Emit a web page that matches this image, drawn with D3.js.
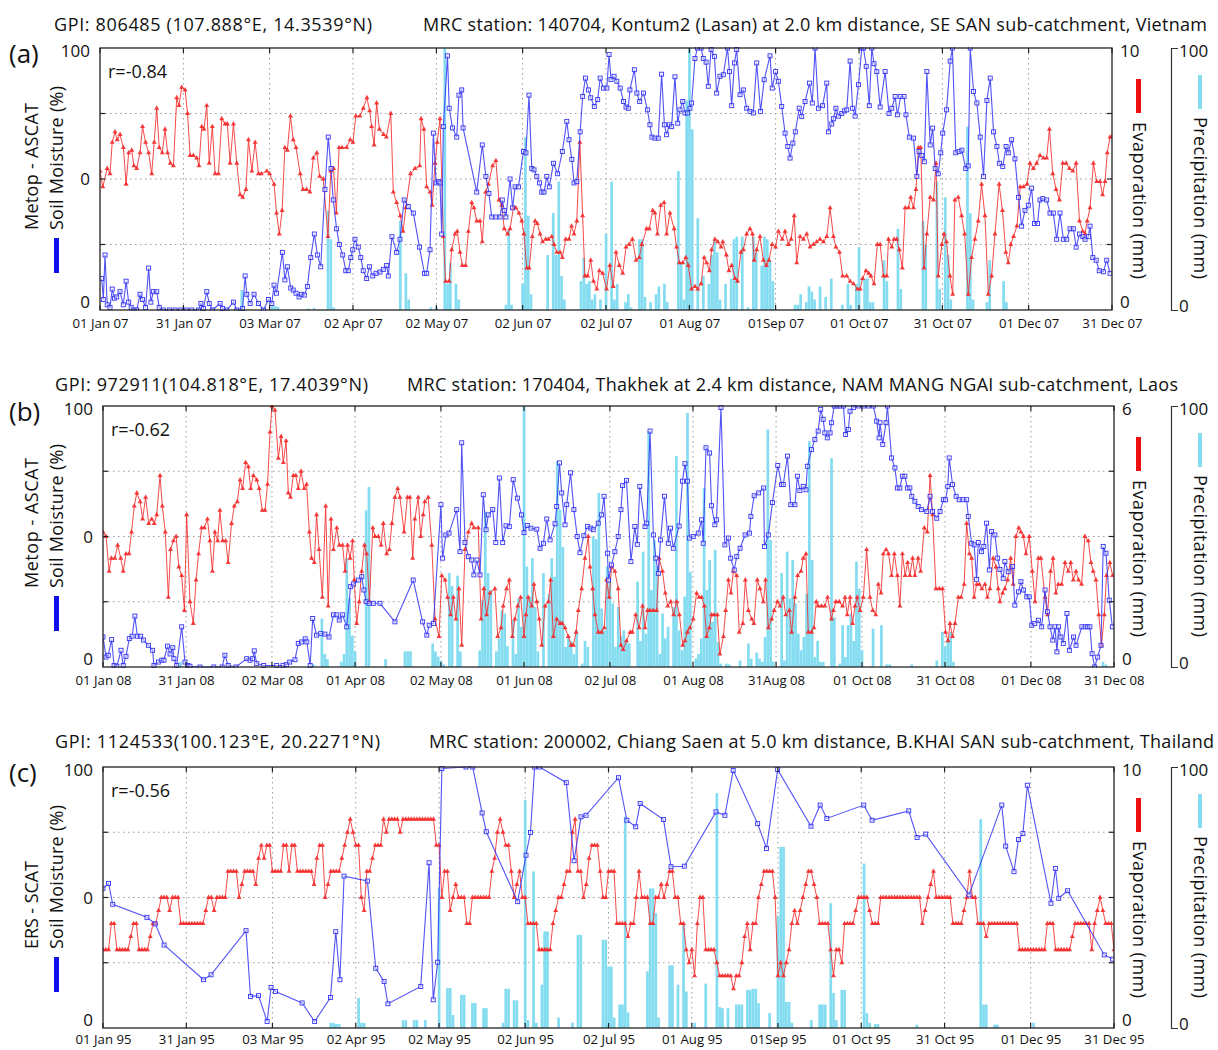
<!DOCTYPE html>
<html>
<head>
<meta charset="utf-8">
<script src="https://cdn.jsdelivr.net/npm/d3@7"></script>
<style>
  body { margin: 0; background: #fff; }
  svg text { font-family: "Open Sans", "Noto Sans", sans-serif; fill: #111; }
</style>
</head>
<body>
<svg id="chart" width="1218" height="1050"></svg>
<script>
// ---- tick dates and labels ----
const tickDatesA = ["2007-01-01","2007-01-31","2007-03-03","2007-04-02","2007-05-02","2007-06-02","2007-07-02","2007-08-01","2007-09-01","2007-10-01","2007-10-31","2007-12-01","2007-12-31"];
const tickLabelsA = ["01 Jan 07","31 Jan 07","03 Mar 07","02 Apr 07","02 May 07","02 Jun 07","02 Jul 07","01 Aug 07","01Sep 07","01 Oct 07","31 Oct 07","01 Dec 07","31 Dec 07"];
const tickDatesB = ["2008-01-01","2008-01-31","2008-03-02","2008-04-01","2008-05-02","2008-06-01","2008-07-02","2008-08-01","2008-08-31","2008-10-01","2008-10-31","2008-12-01","2008-12-31"];
const tickLabelsB = ["01 Jan 08","31 Jan 08","02 Mar 08","01 Apr 08","02 May 08","01 Jun 08","02 Jul 08","01 Aug 08","31Aug 08","01 Oct 08","31 Oct 08","01 Dec 08","31 Dec 08"];
const tickDatesC = ["1995-01-01","1995-01-31","1995-03-03","1995-04-02","1995-05-02","1995-06-02","1995-07-02","1995-08-01","1995-09-01","1995-10-01","1995-10-31","1995-12-01","1995-12-31"];
const tickLabelsC = ["01 Jan 95","31 Jan 95","03 Mar 95","02 Apr 95","02 May 95","02 Jun 95","02 Jul 95","01 Aug 95","01Sep 95","01 Oct 95","31 Oct 95","01 Dec 95","31 Dec 95"];
const smTicks = [0, 50, 100];
const smTickLabels = ["0", "0", "100"];
const prTickLabels = ["0", "100"];

// ---- panel (a): [day of year, value] ----
const evapA = [[0,5.3],[1,4.7],[2.6,5.4],[3.6,5.2],[4.4,6.4],[5.4,6.8],[6.2,6.5],[7.2,6.7],[8.4,6.2],[9.4,4.8],[10.3,6.0],[11.4,6.1],[12.2,5.5],[13.2,5.4],[14.4,6.0],[15.3,7.0],[16.4,6.4],[17.5,6.0],[18.6,5.2],[19.5,6.4],[20.4,7.7],[21.3,6.2],[22.4,6.0],[23.4,6.9],[24.3,6.0],[25.3,5.6],[26.4,5.5],[27.6,8.1],[28.4,7.8],[29.4,8.5],[30.6,8.4],[31.5,7.5],[32.4,5.9],[33.6,5.9],[34.8,5.8],[35.6,5.5],[36.6,7.0],[37.4,6.9],[38.4,7.8],[39.3,5.6],[40.4,7.0],[41.4,5.2],[42.6,5.2],[43.8,7.3],[45,7.1],[45.8,7.1],[46.8,5.6],[48,7.1],[49.2,5.6],[50.4,4.4],[51.3,4.3],[52.5,4.6],[53.4,6.5],[54.6,5.3],[55.8,6.4],[57,5.2],[58,5.2],[60,5.3],[61,5.2],[62.6,4.8],[63.5,3.7],[64.5,2.9],[65.5,3.8],[66.5,6.2],[67.4,6.1],[68.5,7.4],[69.5,6.5],[70.5,6.2],[72,5.2],[73,4.6],[74.3,4.6],[75.5,4.5],[76.7,5.8],[78,6.0],[79,5.1],[80.3,5.0],[82,2.8],[83,5.3],[84,5.4],[85,3.7],[86,6.2],[87,6.2],[88.7,6.2],[90,6.5],[91,6.4],[92,7.4],[93.5,7.4],[94.7,7.7],[96,8.1],[97,7.6],[97.7,7.0],[98.6,6.3],[99.5,7.9],[100.5,6.9],[102,6.7],[103,6.6],[104.6,7.5],[105.5,4.5],[106.7,4.1],[108,3.6],[109,3.0],[110,3.9],[111.7,5.2],[113.3,5.4],[115,5.5],
[115.5,7.3],[116.5,6.9],[117.5,4.7],[118.7,4.5],[119.5,4.0],[120.5,5.6],[121.3,6.4],[122.3,7.3],[123.5,2.8],[124.3,1.1],[125.6,1.1],[126.5,2.3],[127.7,2.9],[128.5,3.0],[129.5,2.2],[130.3,1.7],[131.5,1.7],[132.5,3.0],[133.7,4.1],[134.5,3.9],[135.5,3.4],[136.7,3.4],[137.5,2.6],[138.7,4.5],[139.7,4.8],[141.2,5.5],[142.4,5.7],[143.5,4.2],[144.5,4.0],[145.4,3.1],[146.6,2.9],[147.5,3.1],[148.7,3.9],[149.6,3.9],[150.7,3.7],[151.7,3.4],[152.5,2.9],[153.5,1.6],[154.4,1.6],[155.5,2.8],[156.5,3.4],[157.3,3.3],[158.3,2.9],[159.2,2.6],[160.3,2.7],[161.3,2.7],[162.5,2.8],[163.3,2.5],[164.3,2.2],[165.5,2.2],[166.3,2.0],[167.5,2.7],[168.7,2.7],[169.6,3.2],[170.5,2.9],[171.5,3.4],[172.6,6.4],[173.6,3.6],[174.4,1.3],[175.4,1.3],[176.5,1.9],[177.5,1.1],[178.7,0.8],[179.6,1.5],[180.8,1.4],[182.2,0.8],[183.4,1.7],[184.6,0.9],[185.6,2.2],[186.8,1.7],[188,1.4],[189.2,2.4],[190.3,2.5],[191.5,2.7],[192.8,1.9],[194,2.0],[194.9,2.5],[196.6,3.1],[197.6,3.1],[198.8,3.8],[199.6,3.7],[200.5,2.9],[201.7,4.0],[202.9,4.1],[203.8,2.9],[205,3.7],[206.5,3.1],[207.4,2.4],[208.4,1.8],[209.6,1.8],[210.7,2.0],[211.6,1.7],[212.8,0.8],[214,0.9],[215,0.8],[216.2,1.0],[217.3,2.0],[218.2,1.8],[219.2,1.5],[220,2.3],[221.2,2.7],[222.2,2.6],[223.4,2.4],[224,2.6],[225.3,2.1],[226.2,1.5],[227.2,1.7],[228.4,1.2],[229.3,1.1],[230.5,2.2],[231.4,2.3],[232.6,2.9],[233.8,3.1],[234.7,2.9],[235.3,1.9],[236.2,2.3],[237.4,2.8],[238.6,1.9],[239.7,1.7],[240.6,1.9],[241.8,2.5],[243,2.4],[244,3.0],[245.4,2.7],[246.4,3.0],[247.6,2.5],[248.6,2.7],[249.7,3.6],[250.6,1.8],[251.8,2.8],
[253,2.7],[254.2,2.9],[255.4,2.4],[256.6,2.5],[257.8,2.6],[259,2.7],[260.2,2.6],[261.4,2.8],[262.6,3.9],[263.8,2.8],[264.7,2.4],[266,2.2],[267.1,1.3],[268.6,1.3],[269.8,1.1],[271,1.0],[272.4,0.8],[273.4,0.8],[274.3,1.2],[275.5,1.5],[276.5,1.4],[277.3,1.3],[278.4,1.0],[279.6,2.5],[280.6,2.5],[281.8,1.3],[283,1.3],[283.6,2.7],[284.8,2.4],[285.6,2.7],[286.6,2.7],[287.5,2.3],[288.6,1.6],[289.6,3.9],[290.8,3.9],[291.6,4.3],[292.6,3.9],[293.5,4.6],[294.4,6.2],[295.2,6.2],[296.4,1.6],[297.4,2.9],[298.6,4.3],[299.8,4.2],[300.7,5.6],[301.5,1.3],[302.8,2.5],[303.6,2.9],[304.5,2.6],[305.7,1.3],[306.7,0.6],[307.5,4.2],[308.7,4.3],[309.9,3.6],[311,2.9],[312.3,0.6],[313.5,2.0],[314.7,2.7],[315.9,3.4],[317.1,4.8],[318.3,3.6],[319.5,0.6],[320.7,1.3],[321.9,2.9],[323.4,4.8],[324.6,3.8],[325.8,2.2],[326.7,1.8],[327.6,2.5],[328.6,2.8],[329.8,3.2],[331,4.7],[332.2,4.7],[333.4,4.8],[334.5,5.6],[335.7,5.4],[336.9,5.6],[338.1,5.9],[339.3,5.8],[340.5,5.8],[341.5,6.9],[342.7,5.2],[343.9,4.6],[345.1,4.2],[346.3,5.6],[347.5,5.6],[348.7,5.4],[349.9,5.3],[351.1,5.6],[352.3,3.4],[353.5,3.0],[354.3,2.9],[355.1,3.4],[356.1,3.9],[357.3,5.6],[358.5,4.9],[359.7,4.9],[360.6,4.4],[361.5,4.9],[362.3,6.0],[363.3,6.6],[364,6.6]];

const smA = [[0.6,12],[1.2,4],[1.8,21],[2.6,2],[3.6,1],[4.4,8],[5.2,4.5],[6,5],[7.2,7],[8.4,2],[9.4,11],[10.3,3],[11.2,1],[12.2,0],[13.2,0],[14.4,6],[15.3,4],[16.4,1],[17.5,16],[18.3,3],[19.2,7],[20.4,7],[21.3,1],[22.8,0],[25,0],[27,0],[29,0],[31,0],[33,0],[35.4,0],[36.3,2.5],[37.2,0.6],[38.4,7],[39.3,2.5],[40.5,0],[43.2,2.5],[44.1,0.6],[45.6,0],[48,3],[49.2,0],[51.3,0.6],[52.2,13],[52.8,6],[54,2.5],[55.4,6],[57,2.5],[58.8,0],[60.6,4],[61.8,2.5],[62.6,9.5],[63.5,6.4],[65.6,22],[66.5,11.5],[67.4,16.5],[68.6,8.4],[69.5,7.6],[70.5,6.4],[71.6,5],[72.5,6],[73.5,5.7],[74.6,9],[75.8,20],[77.1,29],[78.2,21],[79.4,16.5],[80.9,46],[82.1,66],[83.1,54],[83.9,42],[85.1,31],[86.1,25],[87.3,21],[88.4,15],[89.3,15],[90.2,20],[90.9,23],[91.7,27],[92.9,24],[93.8,20],[94.7,15],[95.9,12],[96.9,16.5],[98.1,13],[99.3,14],[100.7,14.5],[101.9,15.5],[103.1,17],[103.7,13],[105,28],[106.7,22],[107.9,27],[109.4,42],[110.9,39.5],[112.7,37],[114.9,24],
[116.7,14],[117.5,14],[118.7,23],[119.9,67.5],[120.9,48.5],[121.7,49],[122.3,48.5],[122.9,29],[123.5,70],[125,97],[125.6,77],[126.8,69.5],[128.3,66],[129.1,82],[130.1,84],[130.6,69.5],[135.5,45],[137.5,63],[138.8,51],[139.9,44.5],[140.9,35.5],[142.4,35.5],[143.9,35.5],[144.7,42],[145.4,38],[146,35.5],[147.5,50],[148.4,39],[149.3,47],[150.5,47],[152.3,60.5],[153.2,60],[154.3,82],[155.3,54],[156.1,53.5],[157.1,51],[158.1,48.5],[158.9,45],[159.7,45],[160.7,51],[161.6,47],[163.1,56],[164.6,52],[166.3,60.5],[167.9,72],[168.7,65],[169.7,57.5],[170.5,48.5],[171.5,49],[172.7,68],[173.6,81.5],[174.6,88.5],[175.7,84],[176.5,81],[177.8,77.7],[179,80.3],[179.9,88.5],[181.1,84.7],[182.3,84.7],[183.1,97.5],[183.8,88],[184.9,89.2],[185.9,87.3],[187.1,84.7],[188.3,79.6],[189.2,77.5],[190,77],[190.6,84],[192.2,91.7],[193.1,82.8],[194.1,79.6],[195.5,82.8],[196.9,76.4],[197.8,70.7],[198.5,66],[199.6,65.6],[200.8,65.6],[202,90],[203,70.7],[203.8,66.9],[204.8,70.7],[205.6,70],[206.8,89],[207.8,71.3],[208.6,76.4],[209.6,79.6],[210.4,75.2],[211.3,75.2],[212.2,77],[212.8,79],[214,96],[214.9,100],[216.2,100],[217,96],[218,94.6],[218.8,85.4],[219.8,99.4],[221,96.8],[221.8,82.8],[223,89.2],[224.2,89.8],[225.7,100],[226.4,91],[227.2,78],[228.2,94.3],[229,99.4],[230.2,82.2],[231.4,84],[232.6,77],[233.8,75.8],[235,75.2],[236.2,94.3],[237.6,75.8],[238.9,87.9],[241,97],[241.8,84.7],[243,91],[244,87.3],[245.2,77.7],[246.4,67.5],[247.4,62.4],[248.2,58],[249.2,63.7],[250.1,68],[251.5,77],[252.4,73.9],[253.6,79.6],[255.2,86.6],[256.2,79],[257.2,100],[258.4,77],
[259.9,78],[261.4,86.6],[262,68],[263.2,71],[263.8,73],[264.7,77],[265.6,74],[266.8,75],[267.7,76],[268.6,76.4],[269.8,95],[270.7,77],[271.6,74],[272.8,86],[274,100],[274.6,100],[275.6,93],[276.7,78],[277.6,100],[278.4,94],[279.4,91],[280.6,77.5],[282.4,91],[283.8,75],[284.8,77],[286,81.5],[286.8,74.5],[288,81.5],[289.2,81.5],[289.9,74.5],[291.1,66],[292.6,65.6],[293.8,51],[294.6,60.5],[295.6,59],[296.5,56.6],[297.4,91],[298.6,63],[299.5,69.4],[300.4,54],[301.5,52],[302.4,60],[303.1,67.5],[304.5,76.4],[305.8,95],[306.6,100],[307.8,60],[309,60.5],[310,61],[311.4,54],[312.3,55],[313,100],[314.2,83.4],[315.4,79],[316.6,66],[317.8,51],[319,80],[320.2,88.5],[321.4,68],[322.6,62.4],[323.5,56],[324.7,54.8],[325.9,62.4],[326.7,60],[327.9,65],[329.1,57.7],[330.4,43],[331.5,32],[332.7,38],[333.9,40],[335.1,46.5],[336.1,33],[337.2,33],[338.1,42],[339.1,42.5],[340.5,42],[341.7,37],[342.9,37],[344.1,27],[345.3,37],[346.5,27],[347.7,27],[348.9,31],[350.1,31],[351.1,24],[352.3,29],[353.5,28],[354.3,27],[355.5,28],[356.1,32],[357.1,20],[358.3,19],[359.4,15],[360.9,14.6],[362.1,19],[363.3,14]];

const precipA = [[51,7.6],[62,1.5],[63,1.5],[64,1.2],[75,0.6],[77,0.8],[82,38],[83,27],[84,1],[108,34],[110,14],[111,4],[119,1],[121,1],[124,100],[125,10],[126,18],[128,10],[129,4],[146,2],[147,31],[148,2],[152,10],[153,66],[154,36],[155,6],[161,21],[163,37],[164,21],[165,49],[166,13],[167,4],[173,11],[174,20],[175,10],[176,11],[177,4],[178,6],[180,4],[182,29],[184,49],[185,4],[186,10],[189,3],[190,6],[191,1],[194,27],[195,27],[196,5],[198,3],[200,6],[201,9],[203,10],[204,3],[208,53],[209,18],[210,4],[211,80],[212,100],[213,69],[215,35],[217,13],[219,10],[220,21],[221,27],[222,22],[223,4],[225,10],[227,12],[228,27],[229,28],[231,28],[233,1],[235,28],[236,22],[238,17],[239,28],[240,27],[241,19],[242,11],[250,2],[251,2],[252,6],[254,3],[255,9],[256,7],[257,4],[259,9],[261,5],[263,12],[267,2],[269,10],[270,2],[272,10],[273,24],[275,12],[276,12],[277,3],[278,3],[282,19],[283,11],[287,31],[288,8],[296,34],[297,25],[301,49],[302,8],[304,43],[305,21],[306,4],[312,70],[313,37],[314,4],[319,3],[320,19],[325,11],[326,3]];

// ---- panel (b) ----
const evapB = [[0,3.1],[1.1,3.0],[2.2,2.2],[3,2.5],[4.3,2.5],[5.3,2.8],[6.4,2.5],[7.3,2.2],[8.3,2.6],[9.4,2.6],[10.3,3.1],[11.3,3.7],[12.2,4.0],[13.4,3.8],[14.3,3.4],[15.4,3.9],[16.5,3.3],[17.6,3.4],[18.5,3.3],[19.4,3.5],[20.6,4.4],[21.4,3.7],[22.5,3.1],[23.6,1.6],[24.4,2.7],[25.4,2.9],[26.4,3.0],[27.4,2.3],[28.4,2.1],[29.4,1.3],[30.2,3.5],[31.4,1.5],[32.6,1.0],[33.6,2.0],[34.5,2.6],[35.6,3.2],[36.6,3.2],[37.7,3.4],[38.6,2.9],[39.5,2.2],[40.4,3.1],[41.4,2.9],[42.2,3.6],[43.2,2.9],[44.3,2.9],[45.2,2.4],[46.4,3.3],[47.4,3.7],[48.5,3.8],[49.5,4.3],[50.4,4.1],[51.5,4.7],[52.5,4.6],[53.3,4.1],[54.3,4.4],[55.5,4.3],[56.4,4.1],[57.5,3.6],[58.5,3.6],[59.4,4.2],[60.3,5.4],[61,6.0],[62.1,5.9],[63.3,4.8],[64.3,5.3],[65.1,4.7],[66.1,5.2],[66.9,4.0],[67.7,3.9],[68.7,4.4],[69.6,4.4],[70.5,4.1],[71.5,4.5],[72.6,4.1],[73.5,4.2],[74.5,3.1],[75.3,2.5],[76.3,2.4],[77.1,3.5],[78,2.7],[79.2,1.6],[80.4,3.7],[81.3,1.4],[82.3,3.4],[83.2,2.7],[84.4,3.2],[85.3,2.8],[86.5,2.8],[87.4,2.2],[88.3,2.8],[89.2,2.5],[90.1,2.9],[90.7,2.0],[91.6,1.0],[92.5,1.5],[93.4,2.2],[94.4,2.8],[95.2,2.6],[96.2,1.5],[97.4,3.2],[98.2,3.0],[99.4,3.0],[100.4,2.8],[101.2,3.3],[102.4,2.6],[103.4,2.7],[104.3,3.3],[105.4,3.9],[106.4,4.1],[107.2,3.9],[108.7,3.1],[109.9,3.9],[110.8,3.9],[111.8,2.5],[112.6,3.4],[113.8,3.9],[114.7,3.0],[115.6,3.5],[116.2,3.8],[117.4,3.9],[118.7,2.8],[119.9,1.1],[121.3,0.7],[122.3,2.1],[123.5,2.0],[124.4,1.6],[125.5,1.2],[126.5,1.6],[127.4,1.1],[128.5,1.8],[129.5,0.5],[130.7,2.7],[131.9,3.1],[133.1,3.3],[133.9,3.2],[135.5,3.2],[136.5,1.1],[137.5,1.8],[138.5,1.2],[139.7,1.7],[141.5,1.8],[142.5,0.7],[143.7,0.9],[144.5,1.4],[145.7,1.8],[146.7,2.0],[147.8,0.7],[148.7,1.1],[149.7,1.4],[150.8,1.6],[152,0.7],[152.7,1.2],[153.5,1.6],[154.8,1.4],[155.6,1.9],[156.6,1.5],[157.5,1.1],[158.4,0.5],[159.6,1.4],[160.8,1.5],[161.6,2.0],[162.6,0.7],[163.8,1.1],[165,1.0],[165.8,1.0],[166.8,0.9],[168,0.7],[169,0.5],[169.8,0.5],[170.8,0.8],[171.6,1.3],[172.8,1.8],[174,2.5],[175.2,3.0],[175.8,2.3],[176.8,1.8],[177.6,1.2],[178.8,0.8],[180,0.8],[181,0.9],[181.8,2.0],[182.8,1.6],[183.6,2.3],[184.8,2.2],[186,1.8],[187,0.5],[187.8,0.4],[189,0.6],[190.3,0.8],[191.1,0.8],[192.3,1.2],[193.6,0.9],[194.8,1.4],[195.7,0.9],[196.6,1.3],[197.5,1.3],[198.7,1.3],[199.9,1.3],[200.8,2.5],[202,2.2],[203,1.7],[203.9,1.4],[205,1.5],[206,1.2],[207.1,1.5],[208.1,1.2],[209.3,0.5],[210.1,0.6],[211,0.8],[211.9,0.9],[213.1,1.1],[214.3,1.7],[215.2,1.6],[216.1,1.6],[217.1,1.4],[217.9,0.7],[218.9,0.9],[219.7,1.2],[220.6,1.2],[221.8,1.2],[222.7,0.3],[224,0.7],[224.8,1.3],[225.8,2.0],[226.7,1.7],[227.6,2.2],[228.8,2.1],[229.7,0.8],[231,1.0],[231.9,2.0],[233,1.3],[234.2,1.1],[235,1.0],[236.2,2.0],[237.2,1.8],[238.4,1.5],[239.2,2.0],[240.2,0.9],[241.4,1.1],[242.3,1.3],[243.5,1.5],[244.4,1.4],[245.6,1.6],[246.5,1.2],[247.8,1.3],[248.6,0.8],[249.8,1.6],[250.8,2.1],[252,2.2],[252.8,2.5],[253.8,2.6],[254.6,0.8],[255.8,0.8],[256.7,0.9],
[257.5,1.5],[258.2,1.4],[259.4,1.4],[260.6,1.4],[261.6,1.6],[263,1.1],[263.7,1.3],[264.6,1.5],[265.8,1.5],[267,1.4],[267.9,1.6],[268.7,1.2],[269.7,1.6],[270.6,1.0],[271.5,1.4],[272.3,1.6],[273.3,1.3],[274.5,1.6],[275.7,2.7],[276.9,1.6],[277.9,1.3],[279,1.2],[279.9,1.9],[280.9,1.7],[281.7,2.6],[282.7,2.7],[283.6,2.6],[284.7,2.1],[285.7,2.6],[286.8,2.1],[287.7,1.4],[288.6,2.6],[289.6,2.1],[290.5,2.4],[291.3,2.1],[292.3,2.5],[293.1,2.1],[294.3,2.5],[295.2,2.2],[296.5,3.2],[297.6,3.1],[298.6,4.4],[299.5,3.5],[300.7,1.8],[301.9,1.8],[303.1,1.8],[304.2,0.8],[305.1,0.6],[305.8,1.0],[306.7,0.7],[307.6,1.0],[308.8,1.6],[309.8,1.6],[310.9,1.9],[311.8,3.3],[312.8,2.6],[313.6,2.5],[314.5,1.6],[315.4,1.9],[316.4,1.9],[317.3,1.8],[318.4,1.9],[319.3,1.6],[320.2,1.8],[321.4,2.5],[322.4,2.3],[323.2,1.8],[323.8,1.5],[324.8,1.7],[325.6,1.8],[326.6,2.0],[327.7,2.5],[328.6,1.9],[329.6,3.0],[330.6,3.2],[331.4,3.1],[332.3,3.0],[333.2,2.6],[334.4,3.0],[335.5,2.2],[336.5,1.5],[337.7,2.5],[338.6,2.5],[340.1,1.6],[341,1.2],[342.1,2.2],[343,2.5],[344,1.7],[344.9,1.9],[346.1,1.9],[347.3,2.4],[348.5,2.2],[349.4,2.4],[350.3,2.0],[351.3,2.2],[352.2,2.0],[353.3,1.9],[354.5,3.0],[355.7,2.9],[356.7,2.4],[357.5,2.2],[358.5,2.0],[359.5,1.2],[360.5,0.5],[361.5,1.2],[362.3,2.1],[363.5,2.4],[364.5,2.1]];

const smB = [[0,11.5],[1.1,3.8],[1.9,4.5],[3.1,10.5],[4,0.6],[5,0.3],[6.5,6.4],[7.3,0.6],[8.3,4.1],[9.5,10.9],[10.5,11.8],[11.5,19.5],[12.4,11.8],[13.6,11.8],[14.6,10.3],[16.4,8.3],[17.9,6.4],[18.4,0.6],[20,1.9],[21.2,2.6],[22,2.6],[23.3,8],[24.2,5],[25.2,7.4],[25.6,3.2],[26.6,0.6],[28.4,15.4],[29.6,1.9],[30.6,0.6],[31.4,0.3],[35,0],[40,0],[43,0],[44,4.5],[45.2,0.6],[48,0],[51.9,3.2],[53.1,2.6],[54,3.2],[54.6,6.2],[55.5,1.3],[58,0.6],[62.7,0.6],[65,0.6],[66.2,0.9],[67.4,1.9],[69.3,2.8],[70.5,9],[71.7,9.6],[73,10.8],[73.6,9.6],[74.8,0.6],[75.7,18.6],[77.1,12.2],[78.6,12.8],[80.1,12.6],[81.6,11.5],[83.2,20],[84.4,20],[85.3,18],[86.5,20],[88,15.4],[89.4,30.8],[90.4,31.8],[92.2,33.3],[93.4,34.6],[94.2,29.5],[95,25],[96.1,24.4],[97.6,24.4],[100,24.4],[105.4,17.3],[112,33.3],
[115.4,17.3],[116.9,12.2],[117.8,16],[119.3,16.7],[122,62.2],[122.6,41.7],[123.8,50.6],[124.9,51.3],[127.7,60.3],[128.9,44.2],[129.5,85.9],[130.7,47.7],[131.9,42.3],[133.1,41],[133.9,35.3],[135,41],[136.1,35.3],[137.3,66],[138.3,52.6],[139.1,58.3],[140.7,60.3],[141.8,47.7],[143.1,72.4],[144.3,47.7],[145.5,54.1],[146.7,53.8],[148.1,71.8],[149.6,64.7],[151.1,58.3],[152,51.5],[153.2,54.2],[154.5,53.2],[156.6,52.8],[157.8,45.5],[159,47.4],[160.2,56.7],[161.4,48.7],[163.2,54.9],[163.8,61.5],[164.8,78.2],[165.6,66.7],[166.8,54.5],[167.4,62.2],[168.8,74.4],[170,60.3],[171.2,50],[172.2,43.8],[173.6,50.3],[174.9,53.8],[176.1,53.2],[177,52.6],[178.8,55.1],[180,58.3],[180.9,65.4],[182.1,43.6],[182.5,33.3],[183.6,39.1],[184.8,44.2],[186,50],[187,60.3],[187.6,69.5],[189,71.5],[190.6,40.4],[192,53.8],[192.9,47],[193.8,69.2],[195.7,53.8],[196.3,55.1],[197.5,90.4],[198.7,50.6],[199.6,41.7],[200.5,35.9],[201.3,48.7],[202.7,65.4],[204.1,47.4],[204.9,53.2],[205.9,45.5],[208,54],[209.2,71.2],[210.1,77.9],[211,71.2],[211.7,49.4],[213.1,50],[214.9,51.3],[216.1,56.4],[216.7,47.4],[217.7,84],[219,82],[219.7,61.8],[220.9,54.5],[221.5,56.4],[223.1,99.4],[224.5,46.8],[225.8,49.4],[226.6,41.7],[227.9,37.2],[228.8,42.3],[230,45.5],[231.8,50.6],[233.4,51.3],[233.9,57.7],[235.1,65.6],[236.7,66.7],[238.5,68.6],[238.8,46.2],[240.2,50.6],[241.7,63],[243.6,77.2],[245,69.9],[245.6,69.9],[247.1,80.8],[248.3,62.2],[249.8,62.2],[250.7,73.1],[251.6,67.6],[252.8,69.2],[253.8,67.9],[254.3,76.9],[255.8,83.3],[257,87.2],[258.2,90.4],[259.1,98.7],[260,94.9],[260.6,89.7],[261.5,87.8],[262.5,89.7],[263,93.6],[264,100],[265,100],[266,100],[267.3,100],[268.1,89.1],[269.1,91],[269.7,98],[270.9,99.4],[272.7,100],[274.5,100],[276.3,100],[278.1,100],[279.3,94.2],[280.2,87.8],[280.5,93.6],[281.5,85.3],[282.7,93.6],[283.2,100],[284.7,80.1],[285.9,76.3],[286.8,68.6],[287.7,68.6],[288.6,73.1],[289.5,73.1],[290.4,68.6],[291.3,68.6],[292,65.4],[293.1,63.5],[294.3,61.5],[295.5,60.3],[297.4,59.6],[298.6,65.4],[299.5,59.6],[301,57],[302.2,59.6],[303.4,64.1],[304.2,64.1],[305,69.2],[305.5,80.1],[306.7,69.9],[308,65.4],[309.1,64.1],[310.5,64.1],[311.8,64.1],[312.4,57.7],[313.6,47.4],[314.5,46.8],[315.4,33.6],[316,47.7],[317.2,44.2],[318,46.2],[319,55.1],[320,37.2],[320.8,51.9],[322,50.6],[323,41.7],[323.8,37.4],[325,34],[325.6,40.4],[326.8,36.5],[328.4,38.5],[329.2,23.7],[330.5,28.8],[331.4,32.7],[332.3,29.5],[333.5,26.9],[334.4,26.9],[335.3,16],[336.4,16.7],[337.7,17.9],[338.9,15.4],[340.1,29.5],[341,21.2],[341.9,15.4],[342.9,10.3],[343.7,15.4],[344.4,5.8],[345,15.4],[345.8,11.5],[346.7,9],[348,20.5],[348.9,6.4],[350.4,11.5],[351.3,8.3],[353.4,15.4],[354.6,15.4],[355.5,15.4],[356.3,15.4],[357.1,5.1],[358,0],[359.1,3.8],[360.3,8.3],[361.1,46.2],[362.1,43.6],[363.3,25.6],[364.4,15.4]];

const precipB = [[28,2],[76,1],[79,18.6],[80,5],[81,3],[86,2],[87,5],[88,41.7],[89,26.3],[90,12],[91,6],[95,60],[96,69],[102,3],[109,6],[110,6],[111,6],[119,9],[120,6],[121,4],[122,2.5],[123,1],[125,36],[126,31],[128,35],[129,6],[136,6.4],[137,25.6],[138,59.6],[139,36],[140,29.5],[142,6],[143,11],[144,21.8],[145,20.5],[146,8],[148,18],[149,5],[150,26.3],[151,15.4],[152,100],[153,38.5],[154,27],[155,41.7],[156,23],[157,6],[159,36],[161,28],[162,41.7],[163,34.6],[164,78.8],[165,60.3],[166,46],[167,7.7],[168,11.5],[169,10],[170,5],[171,14],[173,1.3],[174,10],[175,7.7],[177,50],[178,49],[179,66.7],[180,22.4],[181,14],[182,38.5],[183,33.3],[184,24.4],[185,7.7],[186,23],[187,12],[188,14],[189,9.6],[190,9],[193,32.7],[194,10],[195,44.2],[196,12.8],[197,90.4],[198,29.5],[199,48.7],[200,38.5],[201,5],[202,20.5],[203,11],[204,15.4],[206,23],[207,80.8],[208,14],[209,6.4],[210,27],[211,97.4],[212,36.5],[214,3.2],[215,5],[216,11],[217,68.6],[218,29.5],[219,41],[220,17.3],[221,44.9],[222,9.6],[223,1.3],[225,1.3],[226,1],[230,2.5],[233,9],[234,3.2],[236,5.5],[237,3.2],[238,2],[239,11.5],[240,91],[241,48.7],[242,2],[245,36],[246,2.5],[247,44.2],[248,26.3],[249,41],[250,24.4],[251,12.8],[252,6.4],[253,11.5],[254,28],[255,86.5],[256,41],[257,3.8],[258,10],[259,2],[260,2],[263,80],[264,19],[266,1.3],[267,16],[268,3.8],[269,16],[270,20.5],[271,10],[272,40.4],[273,30],[274,6.4],[278,14.7],[281,16],[283,1],[284,1],[292,1],[301,2.5],[303,13.5],[304,7.7],[305,10.8],[306,13.5],[307,2],[361,2],[362,1]];

// ---- panel (c) ----
// evaporation is daily (index = day of year)
const evapC = [
3,3,3,4,4,3,3,3,3,3, 3.5,4,4,3,3,3,3,3.5,4,4, 4.5,5,5,5,4.5,5,5,5,4,4, 4,4,4,4,4,4,4,4.5,5,5,
4.5,5,5,5,5,6,6,6,6,5, 5.5,6,6,6,6,5.5,6.5,7,6.5,7, 7,6,6,6,6,7,7,6,7,7, 6,6,6,6,6,6,5.5,6.5,7,7,
5,5.5,6,6,6,6,6.5,7,7.5,8, 7.5,7,7,5,4.5,6,6,6.5,7,7, 7,8,7.5,8,8,8,8,7.5,8,8, 8,8,8,8,8,8,8,8,8,8,
7,7,5,6,6,4.5,5,5.5,5,5, 5,4,4,5,5,5,5,5,5,5, 6,6.5,7.5,8,7.5,7,7,6,5,5.5, 6,5,5,4,4,4,4,3,3,3,
3,3,4,4.5,5,5,5.5,6,6,7.5, 8,6,6,5,5.5,6.5,7,7,7,6, 5,5,6,6,6,4,4,4,4,3.5, 4,4,5,6,5,5,5,4,4,5,
5,5.5,5,5.5,6,6,5,5,4,4, 3,2.5,3,2,4,5,5,3,3,3, 3,2.5,2,2,2,2,2,1.5,2,2, 2.5,3.5,4,3,4,4,5,5.5,6,6,
6,6,5,2,2.5,2,2.5,3,4,4.5, 4,4.5,5,5.5,6,6,5.5,5,4,4, 4,4,3,2,3,3,2.5,4,4,4, 4,4.5,5,5,5,5,4.5,4,4,4,
5,5,5,5,5,5,5,5,5,5, 5,5,5,5,5,4,4.5,5,5.5,6, 5,5,5,5,5,5,4,4,4,4, 4.5,5,6,5,5,4,4,4,3.5,4,
4,4,4,4,4,4,4,4,4,4, 3,3,3,3,3,3,3,3,3,3, 4,4,4,3,3,3,3,3,3,3.5, 4,4,4,4,4,4,3,4,4.5,5,
4.5,4,4,4,3];

const smC = [[0,53.5],[2,55.4],[3.5,47.4],[15.8,42.4],[18.8,39.9],[22,31.8],[36.2,18.5],[38.9,20.4],[51.5,37.3],[53.1,12.1],[56,12.4],[59.1,2.5],[60.5,15.5],[62.1,14],[71.7,9.6],[76.2,2.5],[81.9,11.7],[83.8,36.9],[85.3,18.5],[86.8,58.2],[95.2,56.3],[98.2,22.9],[101.2,17.8],[102.6,9.3],[114.4,15.9],[117.4,63.3],[118.9,10.8],[120.5,25.2],[122,99.4],[130.7,100],[133.1,100],[136.5,82.4],[138,75.2],[149.3,48.4],[152.3,66.2],[153.9,74.9],[155.4,100],[157.2,100],[166.8,94],[169.6,64.1],[172.1,80.9],[173.9,81.5],[185.6,95.9],[188.6,79.6],[191.8,77.1],[193.4,86],[201.8,79.9],[204.5,61.8],[209.3,62],[220.7,82.8],[223.9,81.5],[226.9,98.7],[235.7,78.3],[238.9,68.8],[242.9,99],[254.9,77.3],[258.2,85.4],[260.6,80.3],[273.9,85.4],[276.9,79.6],[290.1,83.2],[293.1,73],[296.2,74.3],[311.8,51],[323.6,85.4],[325,69.7],[328,59.9],[329.6,72.2],[331.2,74.5],[332.8,93],[341.3,47.8],[342.9,61.1],[344.1,49.7],[347.3,52.6],[360.5,28],[363.5,26.4]];

const precipC = [[82,2],[83,2],[84,1.5],[85,1.5],[92,11.5],[93,2],[94,2],[108,3],[109,3],[112,3],[113,3],[116,3],[121,53.5],[124,15.3],[125,15.3],[126,5],[129,12.7],[130,12.7],[133,9.6],[134,9.6],[137,7.6],[138,7.6],[144,2],[145,15],[146,15],[148,10.6],[149,10.6],[152,87.3],[153,3],[155,60],[156,2],[158,16.6],[159,37],[160,37],[164,4],[169,2],[171,35.7],[172,35.7],[180,33.8],[181,33.8],[182,23.6],[183,23.6],[184,4],[186,9],[187,9],[188,81],[189,6],[196,21.7],[197,53.5],[198,53.5],[199,44],[200,4],[204,24],[205,24],[207,16.6],[209,40],[210,14],[213,2],[217,17],[221,90],[222,8],[223,7.6],[225,7.6],[228,9],[229,9],[230,9],[232,14.6],[233,14.6],[234,15],[235,15],[236,9.5],[240,5.7],[243,43],[244,69.4],[245,69.4],[246,10],[247,10],[248,2],[255,3],[258,9],[259,9],[260,9],[262,47.8],[263,13.4],[264,3],[266,14.6],[267,14.6],[274,63],[275,5.7],[276,2],[278,1.5],[279,1.5],[293,1.3],[316,80],[317,9],[318,9],[321,1.3],[322,1.3],[335,2]];

// ---- layout per panel ----
const panels = [
  { tag: "(a)", year: 2007, left: 100, right: 1112, top: 48, bottom: 310, titleY: 31, pad: 9,
    gpi: "GPI: 806485 (107.888°E, 14.3539°N)", gpiX: 54, gpiW: 318,
    station: "MRC station: 140704, Kontum2 (Lasan) at 2.0 km distance, SE SAN sub-catchment, Vietnam", stX: 423, stW: 784,
    sensor: "Metop - ASCAT", sensorW: 127, r: "r=-0.84", evMax: 10, evTicks: ["0", "10"],
    sm: smA, ev: evapA, pr: precipA, ticks: tickDatesA, labels: tickLabelsA },
  { tag: "(b)", year: 2008, left: 103, right: 1114, top: 406, bottom: 667, titleY: 391, pad: 9,
    gpi: "GPI: 972911(104.818°E, 17.4039°N)", gpiX: 55, gpiW: 313,
    station: "MRC station: 170404, Thakhek at 2.4 km distance, NAM MANG NGAI sub-catchment, Laos", stX: 407, stW: 771,
    sensor: "Metop - ASCAT", sensorW: 130, r: "r=-0.62", evMax: 6, evTicks: ["0", "6"],
    sm: smB, ev: evapB, pr: precipB, ticks: tickDatesB, labels: tickLabelsB },
  { tag: "(c)", year: 1995, left: 103, right: 1114, top: 767, bottom: 1028, titleY: 748, pad: 7,
    gpi: "GPI: 1124533(100.123°E, 20.2271°N)", gpiX: 55, gpiW: 325,
    station: "MRC station: 200002, Chiang Saen at 5.0 km distance, B.KHAI SAN sub-catchment, Thailand", stX: 429, stW: 785,
    sensor: "ERS - SCAT", sensorW: 88, r: "r=-0.56", evMax: 10, evTicks: ["0", "10"],
    sm: smC, ev: evapC.map((v, i) => [i, v]), pr: precipC, ticks: tickDatesC, labels: tickLabelsC }
];

const svg = d3.select("#chart");
const parse = d3.timeParse("%Y-%m-%d");
const blue = "#3434f4", red = "#f42a2a", cyan = "#84dcf0";
// vertical offset of value labels: bottom "0" sits a bit above the frame corner
const zeroDy = "-0.15em", topDy = "0.5em";

panels.forEach((p, k) => {
  const g = svg.append("g");
  const start = new Date(p.year, 0, 1);
  const toDate = d => new Date(start.getTime() + d * 864e5);
  const x = d3.scaleTime().domain([start, new Date(p.year, 11, 31)]).range([p.left, p.right]);
  const ySm = d3.scaleLinear().domain([0, 100]).range([p.bottom, p.top]);
  const yEv = d3.scaleLinear().domain([0, p.evMax]).range([p.bottom, p.top]);
  const yPr = d3.scaleLinear().domain([0, 100]).range([p.bottom, p.top]);
  const tickDates = p.ticks.map(parse);
  const h = p.bottom - p.top;

  // titles
  g.append("text").attr("x", p.gpiX).attr("y", p.titleY).attr("font-size", 18)
    .attr("textLength", p.gpiW).text(p.gpi);
  g.append("text").attr("x", p.stX).attr("y", p.titleY).attr("font-size", 18)
    .attr("textLength", p.stW).text(p.station);
  g.append("text").attr("x", 9).attr("y", p.top + 15).attr("font-size", 26).text(p.tag);

  // dotted grid
  g.append("g").selectAll("line").data(tickDates.slice(1, -1)).join("line")
    .attr("x1", d => x(d)).attr("x2", d => x(d)).attr("y1", p.top).attr("y2", p.bottom)
    .attr("stroke", "#9a9a9a").attr("stroke-dasharray", "1.5,3.5");
  g.append("g").selectAll("line").data([25, 50, 75]).join("line")
    .attr("x1", p.left).attr("x2", p.right).attr("y1", d => ySm(d)).attr("y2", d => ySm(d))
    .attr("stroke", "#9a9a9a").attr("stroke-dasharray", "1.5,3.5");

  // clip region
  svg.append("clipPath").attr("id", "clip" + k).append("rect")
    .attr("x", p.left).attr("y", p.top - 1).attr("width", p.right - p.left).attr("height", h + 2);
  const plot = g.append("g").attr("clip-path", `url(#clip${k})`);

  // precipitation bars
  plot.append("g").selectAll("rect").data(p.pr).join("rect")
    .attr("x", d => x(toDate(d[0])) - 1.3).attr("width", 2.7)
    .attr("y", d => yPr(d[1])).attr("height", d => p.bottom - yPr(d[1]))
    .attr("fill", cyan);

  // evaporation
  const evLine = d3.line().x(d => x(toDate(d[0]))).y(d => yEv(d[1]));
  plot.append("path").datum(p.ev).attr("d", evLine)
    .attr("fill", "none").attr("stroke", red).attr("stroke-width", 1).attr("stroke-opacity", 0.85);
  const tri = d3.symbol().type(d3.symbolTriangle).size(11);
  plot.append("g").selectAll("path").data(p.ev).join("path")
    .attr("d", tri).attr("transform", d => `translate(${x(toDate(d[0]))},${yEv(d[1])})`)
    .attr("fill", red).attr("fill-opacity", 0.9);

  // soil moisture
  const smLine = d3.line().x(d => x(toDate(d[0]))).y(d => ySm(d[1]));
  plot.append("path").datum(p.sm).attr("d", smLine)
    .attr("fill", "none").attr("stroke", blue).attr("stroke-width", 1.1).attr("stroke-opacity", 0.85);
  plot.append("g").selectAll("rect").data(p.sm).join("rect")
    .attr("x", d => x(toDate(d[0])) - 2).attr("y", d => ySm(d[1]) - 2)
    .attr("width", 4).attr("height", 4)
    .attr("fill", "#fff").attr("fill-opacity", 0.4)
    .attr("stroke", blue).attr("stroke-width", 0.9);

  // frame and inner ticks
  g.append("rect").attr("x", p.left).attr("y", p.top).attr("width", p.right - p.left).attr("height", h)
    .attr("fill", "none").attr("stroke", "#222").attr("stroke-width", 1.3);
  const tk = g.append("g").attr("stroke", "#222").attr("stroke-width", 1.2);
  tickDates.forEach(d => {
    tk.append("line").attr("x1", x(d)).attr("x2", x(d)).attr("y1", p.bottom).attr("y2", p.bottom - 5);
    tk.append("line").attr("x1", x(d)).attr("x2", x(d)).attr("y1", p.top).attr("y2", p.top + 5);
  });
  [25, 50, 75].forEach(v => {
    tk.append("line").attr("x1", p.left).attr("x2", p.left + 5).attr("y1", ySm(v)).attr("y2", ySm(v));
    tk.append("line").attr("x1", p.right - 5).attr("x2", p.right).attr("y1", ySm(v)).attr("y2", ySm(v));
  });

  // x axis labels
  const xAxis = g.append("g").attr("transform", `translate(0,${p.bottom})`)
    .call(d3.axisBottom(x).tickValues(tickDates).tickFormat((d, i) => p.labels[i]).tickSize(0).tickPadding(p.pad));
  xAxis.select(".domain").remove();
  xAxis.selectAll("text").attr("font-size", 13.2).attr("font-family", "'Open Sans', sans-serif").attr("fill", "#111");

  // left axis (soil moisture)
  const yAxisL = g.append("g").attr("transform", `translate(${p.left},0)`)
    .call(d3.axisLeft(ySm).tickValues(smTicks).tickFormat((d, i) => smTickLabels[i]).tickSize(0).tickPadding(10));
  yAxisL.select(".domain").remove();
  yAxisL.selectAll("text").attr("font-size", 17).attr("font-family", "'Open Sans', sans-serif").attr("fill", "#111")
    .attr("dy", (d, i) => i === 0 ? zeroDy : (i === 2 ? topDy : "0.35em"));

  // right axis (evaporation)
  const yAxisR = g.append("g").attr("transform", `translate(${p.right},0)`)
    .call(d3.axisRight(yEv).tickValues([0, p.evMax]).tickFormat((d, i) => p.evTicks[i]).tickSize(0).tickPadding(8));
  yAxisR.select(".domain").remove();
  yAxisR.selectAll("text").attr("font-size", 17).attr("font-family", "'Open Sans', sans-serif").attr("fill", "#111")
    .attr("dy", (d, i) => i === 0 ? zeroDy : topDy);

  // precipitation axis (bracket)
  const yAxisP = g.append("g").attr("transform", `translate(1171,0)`)
    .call(d3.axisRight(yPr).tickValues([0, 100]).tickFormat((d, i) => prTickLabels[i]).tickSize(0).tickSizeOuter(7).tickPadding(8));
  yAxisP.select(".domain").attr("stroke", "#333").attr("stroke-width", 1.2);
  yAxisP.selectAll("text").attr("font-size", 17).attr("font-family", "'Open Sans', sans-serif").attr("fill", "#111")
    .attr("dy", (d, i) => i === 0 ? "0.1em" : topDy);

  // correlation text
  g.append("text").attr("x", p.left + 8).attr("y", p.top + 30).attr("font-size", 18).text(p.r);

  // left y label
  const yl = p.top + 182;
  g.append("text").attr("transform", `translate(32,${yl}) rotate(-90)`).attr("dy", "0.35em")
    .attr("font-size", 18).attr("textLength", p.sensorW).text(p.sensor);
  g.append("text").attr("transform", `translate(57,${yl}) rotate(-90)`).attr("dy", "0.35em")
    .attr("font-size", 18).attr("textLength", 144).text("Soil Moisture (%)");
  g.append("rect").attr("x", 54).attr("y", p.top + 190).attr("width", 5).attr("height", 35).attr("fill", "#1010ee");

  // right y labels
  g.append("rect").attr("x", 1136).attr("y", p.top + 31).attr("width", 5).attr("height", 34).attr("fill", "#ee1010");
  g.append("text").attr("transform", `translate(1139,${p.top + 74}) rotate(90)`).attr("dy", "0.35em")
    .attr("font-size", 18).attr("textLength", 157).text("Evaporation (mm)");
  g.append("rect").attr("x", 1198).attr("y", p.top + 27).attr("width", 4).attr("height", 34).attr("fill", cyan);
  g.append("text").attr("transform", `translate(1200,${p.top + 69}) rotate(90)`).attr("dy", "0.35em")
    .attr("font-size", 18).attr("textLength", 162).text("Precipitation (mm)");
});
</script>
</body>
</html>
